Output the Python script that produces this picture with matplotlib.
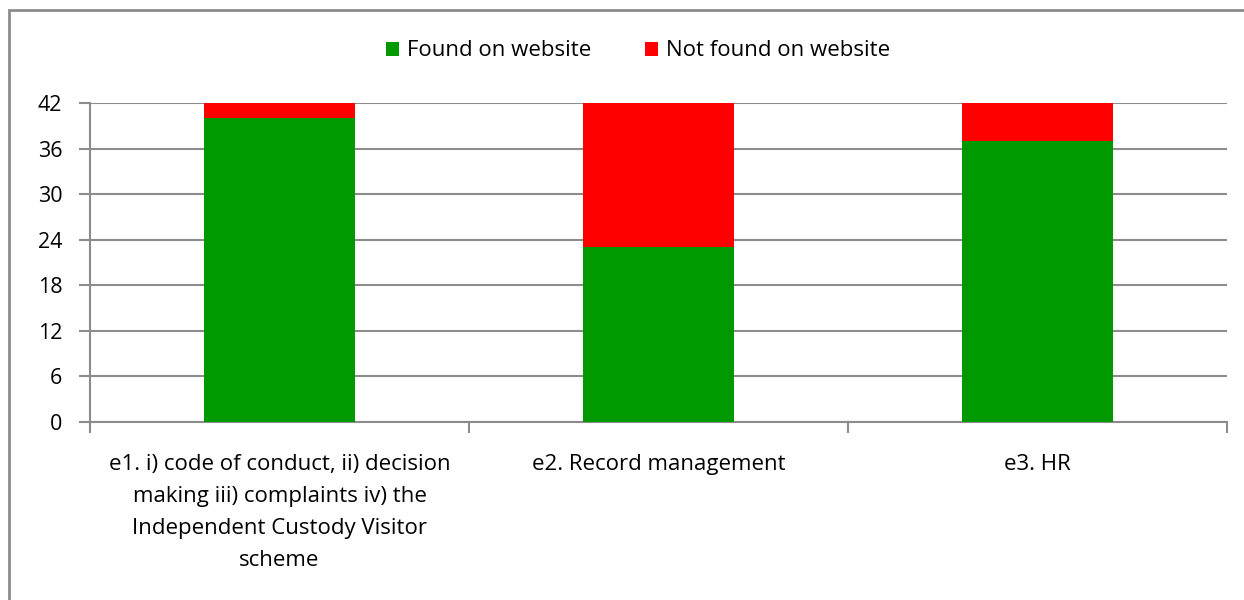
import numpy as np
import matplotlib
matplotlib.use('Agg')
import matplotlib.pyplot as plt
from matplotlib.patches import Rectangle

plt.rcParams['font.family'] = ['Open Sans', 'DejaVu Sans']

# 数据
categories = ['e1. i) code of conduct, ii) decision\nmaking iii) complaints iv) the\nIndependent Custody Visitor\nscheme',
              'e2. Record management',
              'e3. HR']
found = [40, 23, 37]
not_found = [2, 19, 5]
yticks = [0, 6, 12, 18, 24, 30, 36, 42]

green = '#009900'
red = '#ff0000'
grid_c = '#8c8c8c'
fs = 16

fig = plt.figure(figsize=(12.44, 6), dpi=100)
ax = fig.add_axes([90 / 1244, 1 - 422 / 600, (1227 - 90) / 1244, (422 - 103) / 600])

x = np.arange(len(categories))
ax.bar(x, found, width=0.4, color=green, label='Found on website', zorder=3)
ax.bar(x, not_found, width=0.4, bottom=found, color=red, label='Not found on website', zorder=3)

ax.set_xlim(-0.5, len(categories) - 0.5)
ax.set_ylim(0, 42)
ax.set_yticks(yticks)
ax.tick_params(axis='y', length=8, width=1.5, color=grid_c, labelsize=15.5, pad=12)
ax.yaxis.grid(True, color=grid_c, linewidth=1.5, zorder=0)

ax.set_xticks(x)
ax.set_xticklabels(categories, fontsize=fs, linespacing=1.68, va='top')
ax.set_xticks(np.arange(-0.5, len(categories)), minor=True)
ax.tick_params(axis='x', which='major', length=0, pad=23)
ax.tick_params(axis='x', which='minor', length=8, width=1.5, color=grid_c)

for s in ['top', 'right']:
    ax.spines[s].set_visible(False)
for s in ['left', 'bottom']:
    ax.spines[s].set_color(grid_c)
    ax.spines[s].set_linewidth(1.5)

leg = fig.legend(loc='center', bbox_to_anchor=(638 / 1244, 1 - 51 / 600), ncol=2, frameon=False,
                 fontsize=fs, handlelength=0.6, handleheight=0.6, handletextpad=0.35, columnspacing=2.4)

# 外框
fig.patches.append(Rectangle((9 / 1244, -0.1), 1.2, 1 - 10 / 600 + 0.1, transform=fig.transFigure,
                             fill=False, edgecolor='#8c8c8c', linewidth=2))

fig.savefig('out.png', dpi=100)
